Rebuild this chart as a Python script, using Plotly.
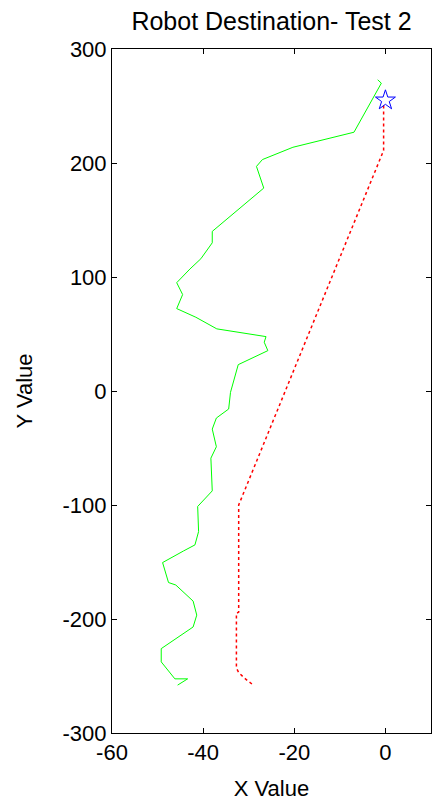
import plotly.graph_objects as go

# Green path (actual robot trajectory), top to bottom
green_x = [-1.7, -0.9, -6.9, -20.3, -27.0, -28.3, -26.7, -38.0, -38.0, -40.5, -42.9,
           -45.8, -44.5, -45.8, -41.6, -37.0, -26.2, -26.6, -25.8, -32.3, -34.0, -34.4,
           -37.1, -38.0, -37.1, -38.3, -38.0, -41.2, -41.0, -41.8, -44.3, -48.9, -47.6,
           -46.0, -42.2, -41.4, -42.2, -49.2, -49.2, -46.2, -43.4, -45.6]
green_y = [273, 270, 227, 213.8, 203, 197, 178, 140, 130, 116, 107,
           95, 84.6, 72.3, 64.7, 54.5, 47.7, 42.8, 35.4, 23.1, -1.2, -15.8,
           -23.7, -33.4, -48.9, -58.9, -87.6, -101.3, -123.3, -135, -140.3, -150.5, -168,
           -170.2, -184.3, -196.6, -207, -226, -237.6, -252.5, -252.5, -258]

# Red path (planned trajectory)
red_x = [-29.3, -30.9, -32.2, -32.7, -32.7, -32.2, -32.2, -0.7, -0.4, -0.4]
red_y = [-257, -252, -247, -243, -195, -194, -100, 209, 211, 251]

# Destination
dest_x = [0]
dest_y = [255]

# Tick labels
x_ticks = [-60, -40, -20, 0]
x_tick_text = ["-60", "-40", "-20", "0"]
y_ticks = [-300, -200, -100, 0, 100, 200, 300]
y_tick_text = ["-300", "-200", "-100", "0", "100", "200", "300"]

fig = go.Figure()
fig.add_trace(go.Scatter(x=green_x, y=green_y, mode="lines",
                         line=dict(color="#00FF00", width=1), showlegend=False))
fig.add_trace(go.Scatter(x=red_x, y=red_y, mode="lines",
                         line=dict(color="#FF0000", width=1.5, dash="dot"), showlegend=False))
fig.add_trace(go.Scatter(x=dest_x, y=dest_y, mode="markers",
                         marker=dict(symbol="star-open", size=15, color="#0000FF",
                                     line=dict(color="#0000FF", width=1)),
                         showlegend=False))

fam = "Liberation Sans, Arial, sans-serif"
font = dict(family=fam, size=22, color="black")
tfont = dict(family=fam, size=25, color="black")
fig.update_layout(
    width=432, height=805,
    margin=dict(l=112, r=1, t=49, b=72),
    paper_bgcolor="white", plot_bgcolor="white",
    font=font,
    title=dict(text="Robot Destination- Test 2", x=0.5, xref="paper", xanchor="center",
               y=1 - 21 / 805, yref="container", yanchor="middle", font=tfont),
    xaxis=dict(range=[-60, 10], tickvals=x_ticks, ticktext=x_tick_text, ticks="inside",
               ticklen=5, tickcolor="black", showline=True, linecolor="black",
               linewidth=1, mirror="ticks", showgrid=False, zeroline=False,
               tickfont=font,
               title=dict(text="X Value", font=font, standoff=16)),
    yaxis=dict(range=[-300, 300], tickvals=y_ticks, ticktext=y_tick_text,
               ticks="inside", ticklen=5, tickcolor="black", showline=True,
               linecolor="black", linewidth=1, mirror="ticks", showgrid=False,
               zeroline=False, tickfont=font,
               title=dict(text="Y Value", font=font, standoff=23)),
)
fig.write_html("out.html")
